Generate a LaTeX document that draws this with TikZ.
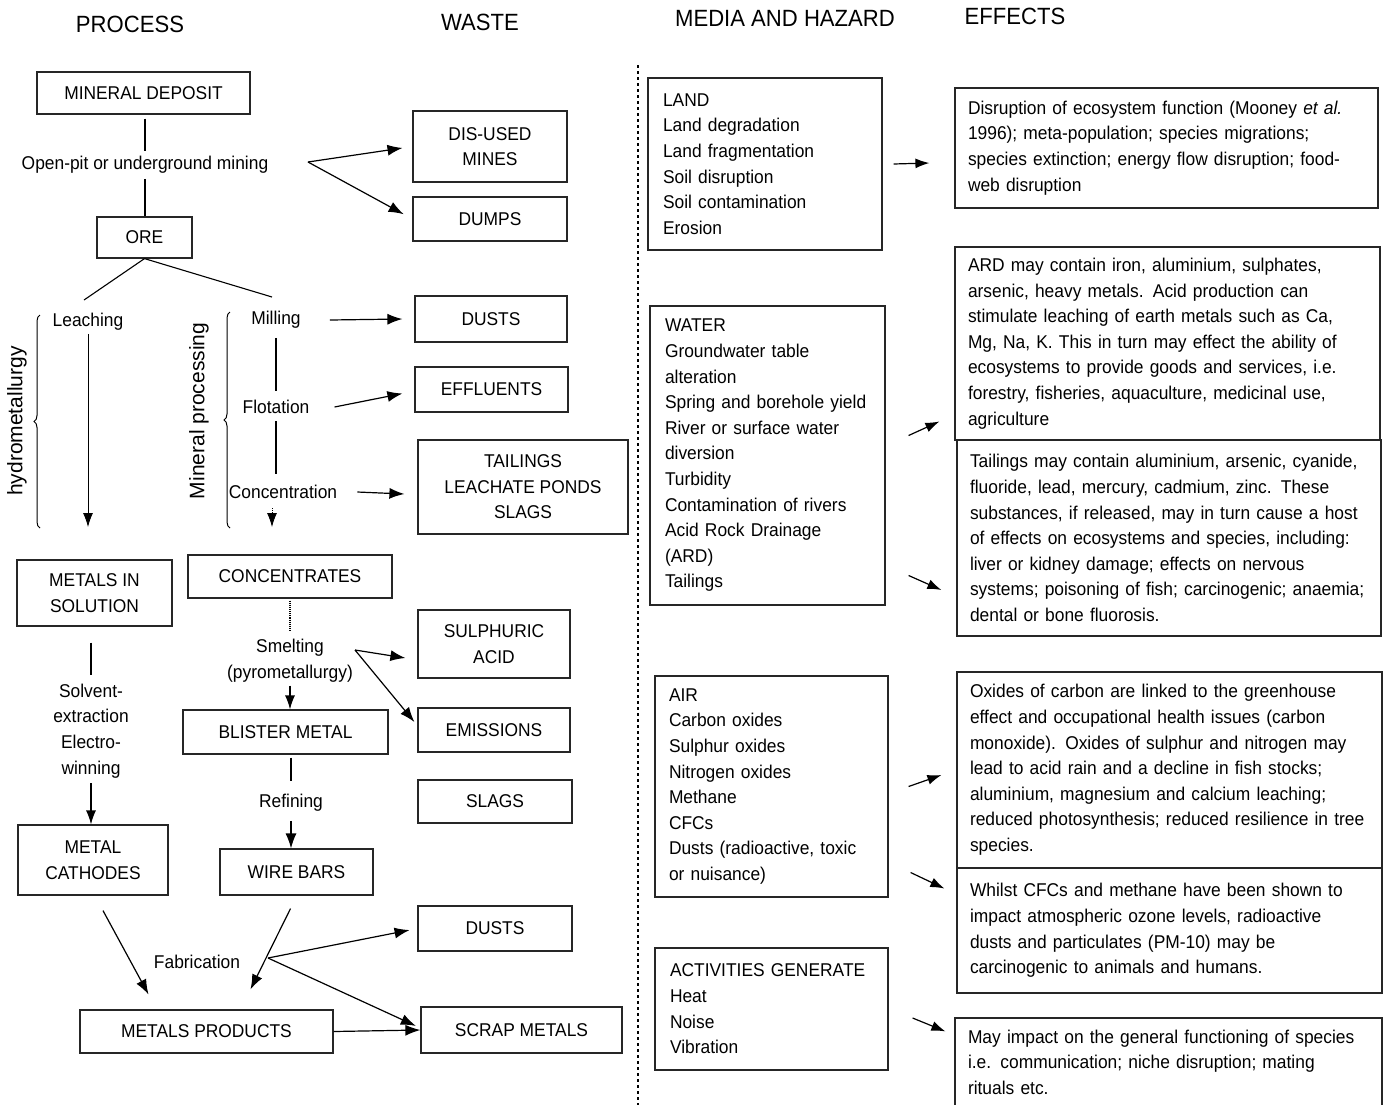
\documentclass[tikz,border=0pt]{standalone}
\usepackage{fontspec}
\setmainfont{Liberation Sans}[FakeStretch=0.94]
\newfontfamily\plainsans{Liberation Sans}
\usetikzlibrary{arrows.meta,decorations.pathreplacing}
\newcommand\bodyfont{\fontsize{18.5}{25.6}\selectfont}
\newcommand\headfont{\fontsize{23.5}{26}\selectfont}

\begin{document}
\begin{tikzpicture}[x=1pt,y=-1pt,
  box/.style={draw=black!85, line width=1.2pt, inner sep=0pt, align=center, font=\bodyfont},
  listbox/.style={draw=black!85, line width=1.2pt, inner xsep=15pt, inner ysep=0pt, align=left, font=\bodyfont},
  lbl/.style={inner sep=3pt, align=center, font=\bodyfont},
  head/.style={inner sep=0pt, font=\headfont},
  conn/.style={line width=1.1pt},
  arr/.style={line width=1.2pt, -{Latex[length=15pt,width=11pt]}},
  sarr/.style={line width=1.2pt, -{Latex[length=14pt,width=10pt]}}]
\useasboundingbox (0,0) rectangle (1384,1104);
\clip (0,0) rectangle (1384,1104);

% column headings
\node[head] (hproc) at (130,24) {PROCESS};
\node[head] (hwaste) at (480,22) {WASTE};
\node[head] (hmedia) at (785,18) {MEDIA AND HAZARD};
\node[head] (heff) at (1015,16) {EFFECTS};

% process column
\node[box, minimum width=213, minimum height=42] (mdep) at (143.5,93) {MINERAL DEPOSIT};
\node[lbl] (mining) at (145,165) {Open-pit or underground mining};
\node[box, minimum width=95, minimum height=41] (ore) at (144.5,237.5) {ORE};
\coordinate (mfork) at (308,162);

\node[lbl] (leach) at (88,322) {Leaching};
\node[lbl] (mill) at (276,320) {Milling};
\node[lbl] (flot) at (276,407) {Flotation};
\node[lbl] (conc) at (283,492) {Concentration};
\coordinate (oreL) at (84,300);
\coordinate (oreR) at (272,297);
\coordinate (leachEnd) at (88,527);
\coordinate (concTop) at (272,508);
\coordinate (concEnd) at (272,527);

\node[box, minimum width=155, minimum height=66] (mis) at (94.5,593) {METALS IN\\SOLUTION};
\node[box, minimum width=204, minimum height=43] (concbox) at (290,576.5) {CONCENTRATES};
\node[lbl] (solv) at (91,731) {Solvent-\\extraction\\Electro-\\winning};
\node[lbl] (smelt) at (290,661) {Smelting\\(pyrometallurgy)};
\coordinate (sfork) at (355,650);
\node[box, minimum width=205, minimum height=44] (blister) at (285.5,732) {BLISTER METAL};
\node[lbl] (refine) at (291,803) {Refining};
\node[box, minimum width=150, minimum height=70] (cath) at (93,860) {METAL\\CATHODES};
\node[box, minimum width=153, minimum height=46] (wire) at (296.5,872) {WIRE BARS};
\node[lbl] (fab) at (197,962) {Fabrication};
\coordinate (ffork) at (268,958);
\node[box, minimum width=253, minimum height=43] (mprod) at (206.5,1031.5) {METALS PRODUCTS};

% side labels with braces
\draw[line width=1pt, decorate, decoration={brace, amplitude=6pt}] (40,528) -- (40,315);
\node[rotate=90, inner sep=0pt, font=\plainsans\fontsize{21}{22}\selectfont] (hydro) at (17,421) {hydrometallurgy};
\draw[line width=1pt, decorate, decoration={brace, amplitude=6pt}] (230,528) -- (230,312);
\node[rotate=90, inner sep=0pt, font=\plainsans\fontsize{21}{22}\selectfont] (minproc) at (199,411) {Mineral processing};

% waste column
\node[box, minimum width=154, minimum height=71] (dused) at (490,146.5) {DIS-USED\\MINES};
\node[box, minimum width=154, minimum height=44] (dumps) at (490,219) {DUMPS};
\node[box, minimum width=152, minimum height=46] (dusts) at (491,319) {DUSTS};
\node[box, minimum width=153, minimum height=45] (effl) at (491.5,389.5) {EFFLUENTS};
\node[box, minimum width=210, minimum height=94] (tail) at (523,487) {TAILINGS\\LEACHATE PONDS\\SLAGS};
\node[box, minimum width=152, minimum height=68] (sulph) at (494,644) {SULPHURIC\\ACID};
\node[box, minimum width=152, minimum height=44] (emis) at (494,730) {EMISSIONS};
\node[box, minimum width=154, minimum height=43] (slags) at (495,801.5) {SLAGS};
\node[box, minimum width=154, minimum height=45] (dusts2) at (495,928.5) {DUSTS};
\node[box, minimum width=201, minimum height=46] (scrap) at (521.5,1030) {SCRAP METALS};

% process connectors
\draw[conn, shorten <=4pt, shorten >=2pt] (mdep.south -| mining.north) -- (mining.north);
\draw[conn, shorten <=2pt] (mining.south) -- (mining.south |- ore.north);
\draw[arr, shorten >=10pt] (mfork) -- (dused.west);
\draw[arr, shorten >=10pt] (mfork) -- (dumps.west);
\draw[conn] (ore.south) -- (oreL);
\draw[conn] (ore.south) -- (oreR);
\draw[sarr, line width=0.8pt] (leach.south) -- (leachEnd);
\draw[conn, shorten <=6pt, shorten >=6pt] (mill.south) -- (flot.north);
\draw[conn, shorten <=4pt, shorten >=8pt] (flot.south) -- (flot.south |- conc.north);
\draw[sarr, densely dotted, line width=0.8pt] (concTop) -- (concEnd);
\draw[arr] ([xshift=26pt]mill.east) -- ([xshift=-12pt]dusts.west);
\draw[arr] ([xshift=22pt]flot.east) -- ([xshift=-12pt,yshift=-4pt]effl.west);
\draw[arr] ([xshift=17pt]conc.east) -- ([xshift=-13pt,yshift=-7pt]tail.west);

\draw[conn, shorten <=16pt, shorten >=6pt] (mis.south -| solv.north) -- (solv.north);
\draw[sarr, shorten <=2pt] (solv.south) -- (solv.south |- cath.north);
\draw[conn, densely dotted, shorten <=2pt, shorten >=6pt] (concbox) -- (smelt);
\draw[arr] (sfork) -- ([xshift=-12pt,yshift=-14pt]sulph.west);
\draw[arr] (sfork) -- ([xshift=-3pt,yshift=8pt]emis.west);
\draw[sarr] (smelt.south) -- (smelt.south |- blister.north);
\draw[conn, shorten <=3pt, shorten >=10pt] (blister.south -| refine.north) -- (refine.north);
\draw[arr, shorten <=6pt] (refine.south) -- (refine.south |- wire.north);
\draw[arr] ([xshift=10pt,yshift=-15pt]cath.south) -- ([xshift=-58pt,yshift=15pt]mprod.north);
\draw[arr] ([xshift=-6pt,yshift=-13pt]wire.south) -- ([xshift=44pt,yshift=20pt]mprod.north);
\draw[arr, shorten >=8pt] (ffork) -- (dusts2.west);
\draw[arr, shorten >=5pt] (ffork) -- ([yshift=2pt]scrap.west);
\draw[arr] (mprod.east) -- (scrap.west);

% separator
\draw[line width=1.2pt, dash pattern=on 3pt off 3pt] (638,65) -- (638,1110);

% media and hazard column
\node[listbox, minimum width=234, minimum height=172, text width=204] (land) at (765,164)
  {LAND\\Land degradation\\Land fragmentation\\Soil disruption\\Soil contamination\\Erosion};
\node[listbox, minimum width=235, minimum height=299, text width=205] (water) at (767.5,455.5)
  {WATER\\Groundwater table\\alteration\\Spring and borehole yield\\River or surface water\\diversion\\Turbidity\\Contamination of rivers\\Acid Rock Drainage\\(ARD)\\Tailings};
\node[listbox, minimum width=233, minimum height=221, text width=205, inner xsep=14pt] (air) at (771.5,786.5)
  {AIR\\Carbon oxides\\Sulphur oxides\\Nitrogen oxides\\Methane\\CFCs\\Dusts (radioactive, toxic\\or nuisance)};
\node[listbox, minimum width=233, minimum height=122, text width=203] (act) at (771.5,1009)
  {ACTIVITIES GENERATE\\Heat\\Noise\\Vibration};

% effects column
\node[listbox, inner xsep=13pt, minimum width=423, minimum height=120, text width=397] (e1) at (1166.5,148)
  {Disruption of ecosystem function (Mooney \textit{et al.}\\1996); meta-population; species migrations;\\species extinction; energy flow disruption; food-\\web disruption};
\node[listbox, inner xsep=13pt, minimum width=425, minimum height=193, text width=399] (e2) at (1167.5,343.5)
  {ARD may contain iron, aluminium, sulphates,\\arsenic, heavy metals. Acid production can\\stimulate leaching of earth metals such as Ca,\\Mg, Na, K. This in turn may effect the ability of\\ecosystems to provide goods and services, i.e.\\forestry, fisheries, aquaculture, medicinal use,\\agriculture};
\node[listbox, inner xsep=13pt, minimum width=424, minimum height=196, text width=398] (e3) at (1169,538)
  {Tailings may contain aluminium, arsenic, cyanide,\\fluoride, lead, mercury, cadmium, zinc. These\\substances, if released, may in turn cause a host\\of effects on ecosystems and species, including:\\liver or kidney damage; effects on nervous\\systems; poisoning of fish; carcinogenic; anaemia;\\dental or bone fluorosis.};
\node[listbox, inner xsep=13pt, minimum width=425, minimum height=196, text width=399] (e4) at (1169.5,770)
  {Oxides of carbon are linked to the greenhouse\\effect and occupational health issues (carbon\\monoxide). Oxides of sulphur and nitrogen may\\lead to acid rain and a decline in fish stocks;\\aluminium, magnesium and calcium leaching;\\reduced photosynthesis; reduced resilience in tree\\species.};
\node[listbox, inner xsep=13pt, minimum width=425, minimum height=125, text width=399] (e5) at (1169.5,930.5)
  {Whilst CFCs and methane have been shown to\\impact atmospheric ozone levels, radioactive\\dusts and particulates (PM-10) may be\\carcinogenic to animals and humans.};
\node[listbox, inner xsep=13pt, minimum width=427, minimum height=88, text width=401] (e6) at (1168.5,1062)
  {May impact on the general functioning of species\\i.e. communication; niche disruption; mating\\rituals etc.};

% media to effects
\draw[sarr] ([xshift=11pt]land.east) -- ([xshift=-25pt,yshift=-15pt]e1.west);
\draw[sarr] ([xshift=23pt,yshift=20pt]water.east) -- ([xshift=-15pt,yshift=-78pt]e2.west);
\draw[sarr] ([xshift=23pt,yshift=-120pt]water.east) -- ([xshift=-15pt,yshift=-52pt]e3.west);
\draw[sarr] ([xshift=20pt]air.east) -- ([xshift=-15pt,yshift=-5pt]e4.west);
\draw[sarr] ([xshift=22pt,yshift=-86pt]air.east) -- ([xshift=-12pt,yshift=42pt]e5.west);
\draw[sarr] ([xshift=24pt,yshift=-9pt]act.east) -- ([xshift=-9pt,yshift=-14pt]e6.north west);
\end{tikzpicture}
\end{document}
